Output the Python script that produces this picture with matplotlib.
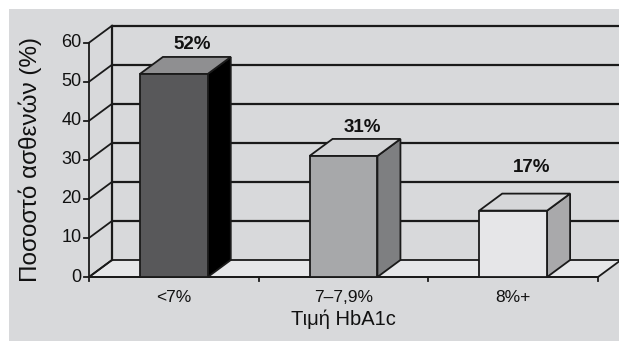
import matplotlib
matplotlib.use("Agg")
import matplotlib.pyplot as plt
from matplotlib.patches import Polygon, Rectangle

plt.rcParams['font.family'] = ['Liberation Sans', 'DejaVu Sans']

# Share of patients by HbA1c range
categories = ['<7%', '7–7,9%', '8%+']
values = [52, 31, 17]
value_labels = ['52%', '31%', '17%']
yticks = [0, 10, 20, 30, 40, 50, 60]
ylabel = 'Ποσοστό ασθενών (%)'
xlabel = 'Τιμή HbA1c'

# extra lift of each value label above its bar top (data units)
label_lift = [0.9, 0.8, 4.6]

front_colors = ['#58585a', '#a7a8aa', '#e6e6e8']
side_colors = ['#000000', '#7e7f81', '#a9a9ab']
top_colors = ['#8f8f91', '#d3d4d6', '#d6d7d9']
bg = '#d8d9db'
floor_color = '#e6e7e9'
line_color = '#1a1a1a'

W, H = 619, 341
fig = plt.figure(figsize=(W / 100, H / 100), dpi=100, facecolor='white')
fig.patches.append(Rectangle((9 / W, 0), 1, (H - 9) / H, transform=fig.transFigure,
                             facecolor=bg, edgecolor='none', zorder=-10))

# front plane of the 3-D box, in pixels
x0, x1 = 89, 598
y0, y1 = H - 277, H - 42.7
ax = fig.add_axes([x0 / W, y0 / H, (x1 - x0) / W, (y1 - y0) / H])
ax.set_xlim(0, 3)
ax.set_ylim(0, 60)
ax.axis('off')

# depth of the box in data units (23 px right, 17 px up)
ddx = 23 / ((x1 - x0) / 3)
ddy = 17 / ((y1 - y0) / 60)

def poly(pts, fc, z, lw=1.3):
    ax.add_patch(Polygon(pts, closed=True, facecolor=fc, edgecolor=line_color,
                         linewidth=lw, zorder=z, clip_on=False, joinstyle='miter'))

# floor
poly([(0, 0), (3, 0), (3 + ddx, ddy), (ddx, ddy)], floor_color, 1)

# back-wall and side-wall grid lines
for v in yticks:
    if v > 0:
        ax.plot([ddx, 3 + ddx + 0.2], [v + ddy, v + ddy], color=line_color, lw=1.6,
                zorder=2, clip_on=False, solid_capstyle='butt')
    ax.plot([0, ddx], [v, v + ddy], color=line_color, lw=1.3, zorder=2, clip_on=False)
ax.plot([ddx, ddx], [ddy, 60 + ddy], color=line_color, lw=1.6, zorder=2, clip_on=False)

# front axes with ticks
ax.plot([0, 0], [0, 60], color=line_color, lw=1.3, zorder=5, clip_on=False)
ax.plot([0, 3], [0, 0], color=line_color, lw=1.3, zorder=5, clip_on=False)
tick_x = 5 / ((x1 - x0) / 3)
tick_y = 4 / ((y1 - y0) / 60)
for v in yticks:
    ax.plot([-tick_x, 0], [v, v], color=line_color, lw=1.3, zorder=5, clip_on=False)
    ax.text(-tick_x - 0.015, v, str(v), ha='right', va='center', fontsize=13,
            color='#111111')
for k in range(4):
    ax.plot([k, k], [-tick_y, 0], color=line_color, lw=1.3, zorder=5, clip_on=False)

# bars
bw = 0.4
for i, (cat, v) in enumerate(zip(categories, values)):
    xc = i + 0.5
    xl, xr = xc - bw / 2, xc + bw / 2
    poly([(xr, 0), (xr + ddx, ddy), (xr + ddx, v + ddy), (xr, v)], side_colors[i], 6)
    poly([(xl, v), (xr, v), (xr + ddx, v + ddy), (xl + ddx, v + ddy)], top_colors[i], 6)
    poly([(xl, 0), (xr, 0), (xr, v), (xl, v)], front_colors[i], 7)
    ax.text(xc + 0.8 * ddx, v + ddy + label_lift[i], value_labels[i], ha='center',
            va='bottom', fontsize=13.5, fontweight='bold', color='#111111')
    ax.text(xc, -5.2, cat, ha='center', va='center', fontsize=12.5, color='#111111')

fig.text((x0 + x1) / 2 / W, (H - 319) / H, xlabel, ha='center', va='center',
         fontsize=14.5, color='#111111')
fig.text(30 / W, (H - 160) / H, ylabel, ha='center', va='center', rotation=90,
         fontsize=17.5, color='#111111')

fig.savefig('out.png', dpi=100, facecolor='white')
